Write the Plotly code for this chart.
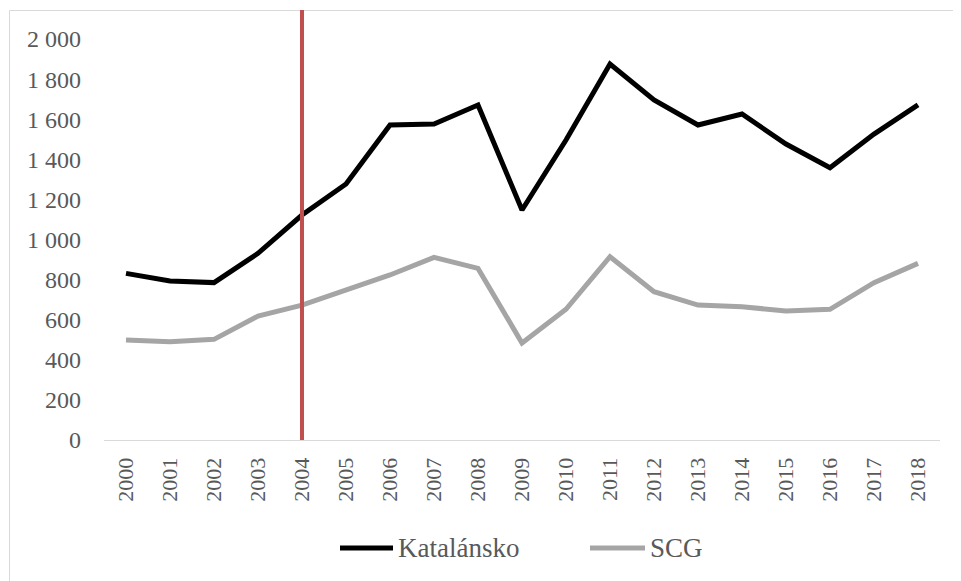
import plotly.graph_objects as go

years = [str(y) for y in range(2000, 2019)]
katalansko = [831, 793, 785, 931, 1122, 1277, 1571, 1576, 1671, 1147, 1496,
              1875, 1696, 1571, 1626, 1476, 1358, 1526, 1671]
scg = [499, 490, 502, 618, 673, 748, 823, 911, 856, 484, 652,
       914, 740, 673, 665, 643, 652, 785, 881]
series_names = ["Katalánsko", "SCG"]
series_colors = ["#000000", "#A5A5A5"]
marker_year = "2004"

# page body has an 8px margin; work in screen pixels and convert
OFF = 8
W, H = 961 - OFF, 581 - OFF
PL, PR, PT, PB = 104, 940, 39, 440          # plot area in screen pixels
L, R, T, B = PL - OFF, W - (PR - OFF), PT - OFF, H - (PB - OFF)
pw, ph = W - L - R, H - T - B

def py(pix):
    return (PB - pix) / ph

def px(pix):
    return (pix - PL) / pw

serif = "Liberation Serif"
txt = "#595959"

fig = go.Figure()
for name, vals, col in zip(series_names, [katalansko, scg], series_colors):
    fig.add_trace(go.Scatter(x=years, y=vals, mode="lines", name=name,
                             line=dict(color=col, width=5), showlegend=False))

# outer chart border
fig.add_shape(type="rect", xref="paper", yref="paper",
              x0=px(9.5), x1=px(990), y0=py(600), y1=py(10.5),
              line=dict(color="#D9D9D9", width=1), layer="below")
# vertical marker line (category index of the marker year)
mi = years.index(marker_year)
fig.add_shape(type="line", xref="x", yref="paper",
              x0=mi, x1=mi, y0=0, y1=py(10),
              line=dict(color="#C0504D", width=4))

# legend (line samples + labels)
leg_y = py(548)
leg_items = [(340, 393, 396), (590, 645, 648)]
for (x0, x1, xt), name, col in zip(leg_items, series_names, series_colors):
    fig.add_shape(type="line", xref="paper", yref="paper",
                  x0=px(x0), x1=px(x1), y0=leg_y, y1=leg_y,
                  line=dict(color=col, width=5))
    fig.add_annotation(xref="paper", yref="paper", x=px(xt), y=leg_y,
                       text=name, showarrow=False, xanchor="left", yanchor="middle",
                       font=dict(family=serif, size=27, color=txt))

fig.update_layout(
    width=W, height=H,
    margin=dict(l=L, r=R, t=T, b=B, pad=0, autoexpand=False),
    paper_bgcolor="white", plot_bgcolor="white",
    separators=", ",
    showlegend=False,
    xaxis=dict(type="category", range=[-0.5, len(years) - 0.5], tickangle=-90,
               showgrid=False, zeroline=False, automargin=False,
               showline=True, linecolor="#D9D9D9", linewidth=1, ticks="",
               ticklabelstandoff=8,
               tickfont=dict(family=serif, size=22, color=txt)),
    yaxis=dict(range=[0, 2000], dtick=200, tickformat=",d", showgrid=False,
               zeroline=False, showline=False, ticks="", ticklabelstandoff=22,
               automargin=False,
               tickfont=dict(family=serif, size=24, color=txt)),
)

fig.write_html("out.html")
